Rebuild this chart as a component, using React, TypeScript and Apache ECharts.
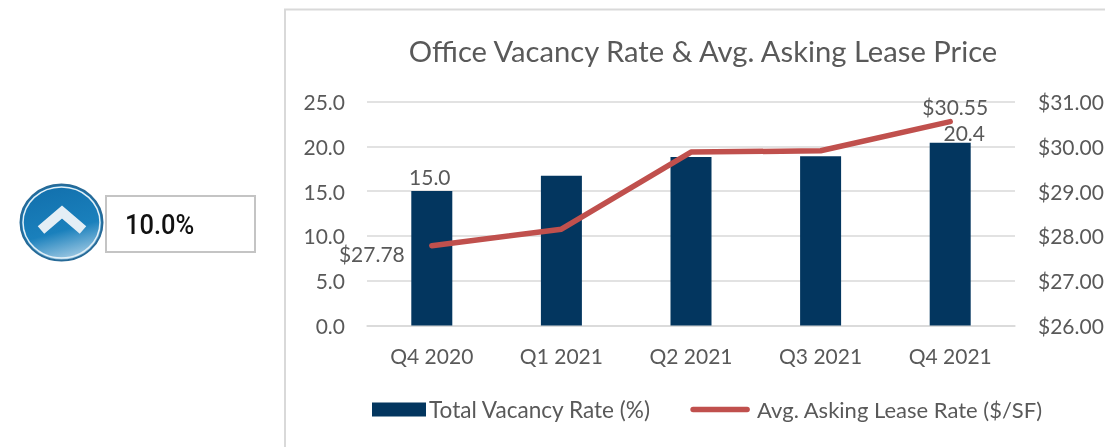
import React, { useEffect, useRef } from "react";
import * as echarts from "echarts";

const categories = ["Q4 2020", "Q1 2021", "Q2 2021", "Q3 2021", "Q4 2021"];
const vacancyRate = [15.0, 16.7, 18.8, 18.9, 20.4];
const leaseRate = [27.78, 28.15, 29.87, 29.9, 30.55];
const titleText = "Office Vacancy Rate & Avg. Asking Lease Price";
const vacancyName = "Total Vacancy Rate (%)";
const leaseName = "Avg. Asking Lease Rate ($/SF)";
const changeText = "10.0%";

const FONT = "Lato";
const GREY = "#595959";
const RED = "#c0504d";
const LABEL = 21;

const barLabelOffsets: Record<number, { distance: number; offset: number[] }> = {
  0: { distance: 4.5, offset: [-2, 0] },
  4: { distance: 0, offset: [14, 0] },
};

export default function App() {
  const ref = useRef<HTMLDivElement>(null);
  useEffect(() => {
    const chart = echarts.init(ref.current!, null, { renderer: "svg" });
    chart.setOption({
      animation: false,
      textStyle: { fontFamily: FONT, color: GREY },
      title: {
        text: titleText,
        left: 698,
        top: 31,
        textAlign: "center",
        textStyle: { fontFamily: FONT, fontSize: 29.2, fontWeight: "normal", color: GREY },
      },
      grid: { left: 367, right: 90, top: 101.5, bottom: 121.5, outerBoundsMode: "none" },
      legend: {
        left: 367,
        top: 393,
        itemWidth: 54,
        itemHeight: 14,
        itemGap: 39,
        textStyle: { fontFamily: FONT, fontSize: 22, color: GREY },
        data: [
          { name: vacancyName, icon: "rect", textStyle: { fontSize: 22.6, padding: [0, 0, 0, -2] } },
          {
            name: leaseName,
            itemStyle: { opacity: 0 },
            lineStyle: { color: RED, width: 5.5, cap: "round" },
            textStyle: { fontSize: 22, padding: [0, 0, 0, 5] },
          },
        ],
      },
      xAxis: {
        type: "category",
        data: categories,
        axisTick: { show: false },
        axisLine: { lineStyle: { color: "#d9d9d9", width: 1.5 } },
        axisLabel: { fontFamily: FONT, fontSize: LABEL, color: GREY, margin: 19 },
      },
      yAxis: [
        {
          type: "value",
          min: 0,
          max: 25,
          interval: 5,
          axisLine: { show: false },
          axisTick: { show: false },
          splitLine: { lineStyle: { color: "#d9d9d9", width: 1.5 } },
          axisLabel: {
            fontFamily: FONT,
            fontSize: LABEL,
            color: GREY,
            margin: 22,
            padding: [0, 0, 2, 0],
            formatter: (v: number) => v.toFixed(1),
          },
        },
        {
          type: "value",
          min: 26,
          max: 31,
          interval: 1,
          axisLine: { show: false },
          axisTick: { show: false },
          splitLine: { show: false },
          axisLabel: {
            fontFamily: FONT,
            fontSize: LABEL,
            color: GREY,
            margin: 23,
            formatter: (v: number) => "$" + v.toFixed(2),
          },
        },
      ],
      series: [
        {
          name: vacancyName,
          type: "bar",
          data: vacancyRate.map((v, i) => ({
            value: v,
            label: {
              show: i in barLabelOffsets,
              position: "top",
              distance: barLabelOffsets[i]?.distance ?? 0,
              offset: barLabelOffsets[i]?.offset ?? [0, 0],
              fontFamily: FONT,
              fontSize: LABEL,
              color: GREY,
              formatter: (p: any) => p.value.toFixed(1),
            },
          })),
          barWidth: 41,
          itemStyle: { color: "#03365f" },
        },
        {
          name: leaseName,
          type: "line",
          yAxisIndex: 1,
          symbol: "none",
          z: 5,
          lineStyle: { color: RED, width: 5.5, cap: "round", join: "round" },
          itemStyle: { color: RED },
          data: leaseRate,
          markPoint: {
            symbol: "circle",
            symbolSize: 0,
            data: [
              {
                coord: [0, leaseRate[0]],
                label: { show: true, position: "left", distance: 27, offset: [0, 8], formatter: "$" + leaseRate[0].toFixed(2), fontFamily: FONT, fontSize: LABEL, color: GREY },
              },
              {
                coord: [4, leaseRate[4]],
                label: { show: true, position: "top", distance: 5, offset: [5, 0], formatter: "$" + leaseRate[4].toFixed(2), fontFamily: FONT, fontSize: LABEL, color: GREY },
              },
            ],
          },
        },
      ],
      graphic: [
        { type: "polyline", shape: { points: [[285, 447], [285, 9.5], [1105, 9.5]] }, style: { stroke: "#d9d9d9", lineWidth: 2, fill: "none" } },
        {
          type: "ellipse",
          shape: { cx: 61.5, cy: 222.5, rx: 41, ry: 38 },
          style: {
            fill: new echarts.graphic.LinearGradient(0.35, 0, 0.65, 1, [
              { offset: 0, color: "#1270ad" },
              { offset: 0.6, color: "#1a80bc" },
              { offset: 1, color: "#a8cee6" },
            ]),
            stroke: "#276a97",
            lineWidth: 2,
          },
        },
        { type: "ellipse", shape: { cx: 61.5, cy: 222.5, rx: 38.5, ry: 35.5 }, style: { fill: "none", stroke: "#e3f0f7", lineWidth: 1.5 } },
        { type: "polyline", shape: { points: [[41, 230], [62, 212], [83, 230]] }, style: { stroke: "#e4eef5", lineWidth: 10, fill: "none" } },
        { type: "rect", shape: { x: 106, y: 196, width: 149, height: 56 }, style: { fill: "#fff", stroke: "#c4c4c4", lineWidth: 2 } },
        { type: "text", x: 125, y: 211, scaleX: 0.91, style: { text: changeText, fontFamily: "Roboto", fontSize: 28, fontWeight: 500, fill: "#111" } },
      ],
    });
    return () => chart.dispose();
  }, []);
  return <div ref={ref} style={{ position: "fixed", left: 0, top: 0, width: 1105, height: 447 }} />;
}
